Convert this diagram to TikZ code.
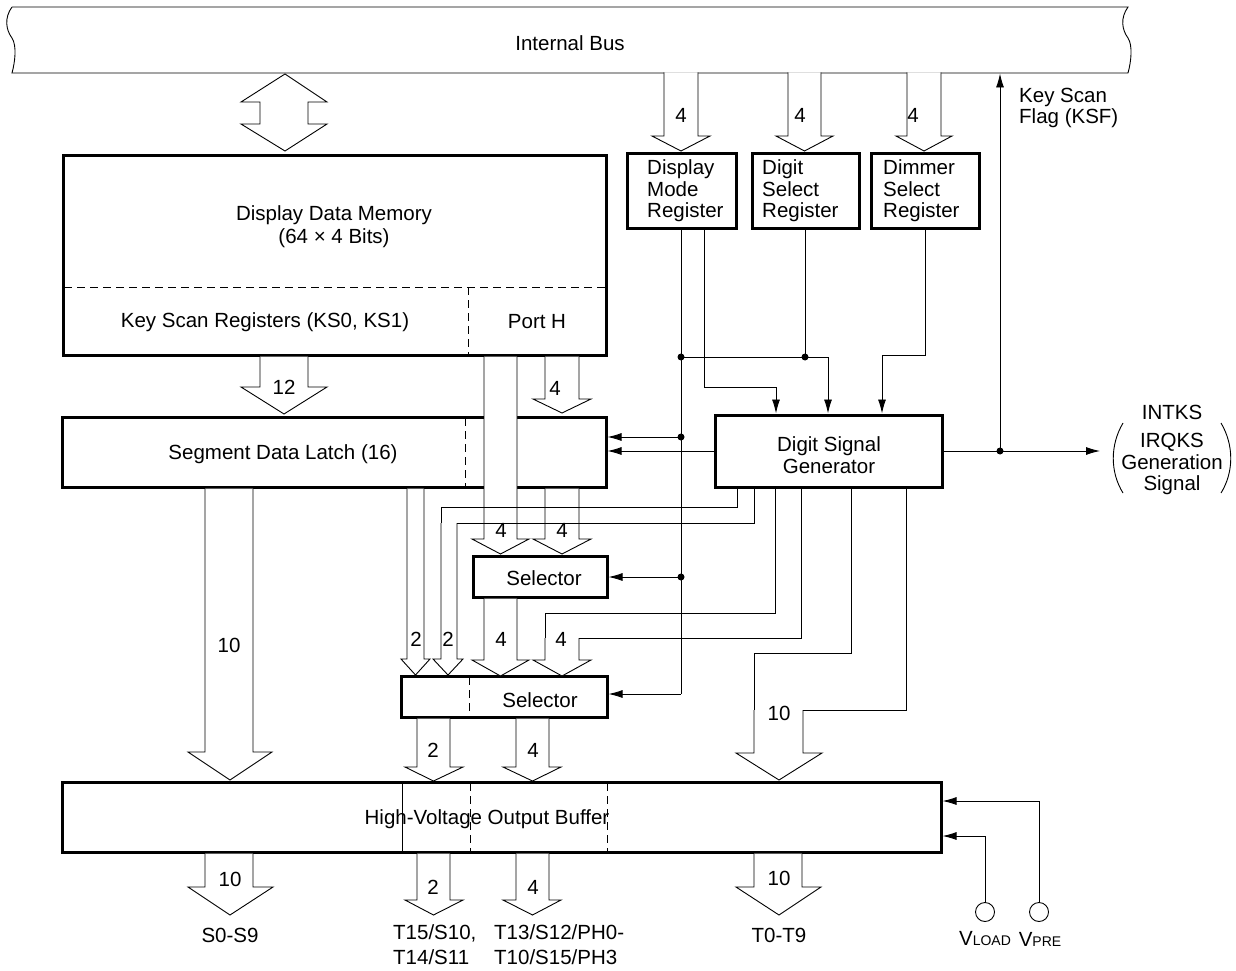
\documentclass[tikz,border=0pt]{standalone}
\usepackage{fontspec}
\setmainfont{Liberation Sans}
\usetikzlibrary{arrows.meta,calc}
\newcommand{\hArrow}[8]{%
  \path[hol] (#1,#3) -- (#1,#4) -- (#5,#4) -- (#7,#8) -- (#6,#4) -- (#2,#4) -- (#2,#3);}
\begin{document}
\begin{tikzpicture}[x=1pt,y=-1pt,
  box/.style={draw,line width=3pt,inner sep=0pt,fill=white},
  lbl/.style={inner sep=0pt,font=\fontsize{20.5}{21.5}\selectfont},
  lblb/.style={inner sep=0pt,font=\fontsize{20.5}{25}\selectfont},
  thin/.style={line width=0.9pt},
  hol/.style={fill=white,draw=black,line width=0.9pt},
  ctl/.style={line width=0.9pt,-{Latex[length=14pt,width=8pt]}},
  dsh/.style={line width=0.9pt,dash pattern=on 8pt off 5pt},
  pin/.style={draw,circle,minimum size=19pt,inner sep=0pt,line width=0.9pt}
]
\useasboundingbox (0,0) rectangle (1236,971);
\fill[white] (0,0) rectangle (1236,971);

% Internal bus
\draw[thin] (12,7) -- (1128,7)
  .. controls (1120,18) and (1122,30) .. (1128,38)
  .. controls (1133,46) and (1131,62) .. (1128,73) -- (12,73)
  .. controls (15,62) and (17,46) .. (12,38)
  .. controls (6,30) and (4,18) .. (12,7);
\node[lbl] (tbus) at (570,43) {Internal Bus};

% double arrow bus <-> memory
\draw[hol] (285,74) -- (327,102) -- (308,102) -- (308,124) -- (327,124) -- (285,151)
  -- (241,124) -- (260,124) -- (260,102) -- (241,102) -- cycle;

% boxes
\node[box,minimum width=543pt,minimum height=200pt] (ddm) at (334.5,255) {};
\node[box,minimum width=544pt,minimum height=70pt] (latch) at (334,452) {};
\node[box,minimum width=109pt,minimum height=75pt] (dmr) at (681.5,190.5) {};
\node[box,minimum width=107pt,minimum height=75pt] (dsr) at (805.5,190.5) {};
\node[box,minimum width=108pt,minimum height=75pt] (dimr) at (925,190.5) {};
\node[box,minimum width=227pt,minimum height=72pt] (dsg) at (828.5,451) {};
\node[box,minimum width=134pt,minimum height=41pt] (sel1) at (540,576.5) {};
\node[box,minimum width=206pt,minimum height=41pt] (sel2) at (504,696.5) {};
\node[box,minimum width=879pt,minimum height=70pt] (hvob) at (501.5,817) {};

% inner dividers
\draw[dsh] (64,287) -- (605,287);
\draw[dsh] (468,287) -- (468,354);
\draw[dsh] (465,418) -- (465,486);
\draw[dsh] (469,677) -- (469,716);
\draw[thin] (402,783) -- (402,851);
\draw[dsh] (470,783) -- (470,851);
\draw[dsh] (607,783) -- (607,851);

% box texts
\node[lbl] (t1) at (334,215) {Display Data Memory};
\node[lbl] (t2) at (334,238) {(64 × 4 Bits)};
\node[lbl] (t3) at (265,322) {Key Scan Registers (KS0, KS1)};
\node[lbl] (t4) at (537,322) {Port H};
\node[lbl] (t5) at (283,454) {Segment Data Latch (16)};
\node[lbl,align=left,anchor=west] (t6) at (647,191) {Display\\Mode\\Register};
\node[lbl,align=left,anchor=west] (t7) at (762,191) {Digit\\Select\\Register};
\node[lbl,align=left,anchor=west] (t8) at (883,191) {Dimmer\\Select\\Register};
\node[lbl,align=center] (t9) at (829,455) {Digit Signal\\Generator};
\node[lbl] (t10) at (544,578) {Selector};
\node[lbl] (t11) at (540,700) {Selector};
\node[lbl] (t12) at (487,819) {High-Voltage Output Buffer};

% hollow bus arrows
\hArrow{664}{698}{72.4}{136}{652}{710}{681}{151}
\hArrow{788}{821}{72.4}{136}{776}{833}{804.5}{151}
\hArrow{907}{941}{72.4}{136}{896}{952}{924}{151}
\node[lbl] (n1) at (681,115) {4};
\node[lbl] (n2) at (800,115) {4};
\node[lbl] (n3) at (913,115) {4};

% memory -> latch, port H
\hArrow{260}{308}{356.5}{387}{241}{327}{284}{414}
\node[lbl] (n4) at (284,387) {12};
\hArrow{545}{579}{356.5}{399}{533}{591}{562}{413}
\node[lbl] (n5) at (555,388) {4};
\hArrow{484}{517}{356.6}{539}{472}{529}{500.5}{554}
\node[lbl] (n6) at (501,530) {4};
\hArrow{545}{579}{488.6}{539}{533}{591}{562}{554}
\node[lbl] (n7) at (562,530) {4};

% latch -> output buffer (10)
\hArrow{205}{253}{488.6}{752}{188}{272}{230}{780}
\node[lbl] (n8) at (229,645) {10};

% into selector 2
\hArrow{407}{424}{488.6}{659}{401}{430}{415.5}{675}
\hArrow{441}{457}{523}{659}{433}{463}{448}{675}
\hArrow{484}{517}{598.6}{660}{472}{529}{500.5}{676}
\hArrow{545}{579}{638}{660}{533}{591}{562}{676}
\node[lbl] (n9) at (416,639) {2};
\node[lbl] (n10) at (448,639) {2};
\node[lbl] (n11) at (501,639) {4};
\node[lbl] (n12) at (561,639) {4};

% selector 2 -> buffer
\hArrow{417}{450}{718.6}{767}{405}{463}{433.5}{781}
\hArrow{516}{549}{718.6}{767}{503}{561}{532.5}{781}
\node[lbl] (n13) at (433,750) {2};
\node[lbl] (n14) at (533,750) {4};

% DSG -> buffer (10)
\hArrow{754}{803}{710}{753}{736}{822}{779}{780}
\node[lbl] (n15) at (779,713) {10};

% outputs
\hArrow{205}{253}{853.6}{887}{188}{273}{230}{915}
\hArrow{417}{450}{853.6}{900}{405}{463}{433.5}{915}
\hArrow{516}{549}{853.6}{900}{503}{561}{532.5}{915}
\hArrow{754}{802}{853.6}{887}{736}{821}{779}{915}
\node[lbl] (n16) at (230,879) {10};
\node[lbl] (n17) at (433,887) {2};
\node[lbl] (n18) at (533,887) {4};
\node[lbl] (n19) at (779,878) {10};
\node[lbl] (o1) at (230,935) {S0-S9};
\node[lblb,align=left,anchor=west] (o2) at (393,945) {T15/S10,\\T14/S11};
\node[lblb,align=left,anchor=west] (o3) at (494,945) {T13/S12/PH0-\\T10/S15/PH3};
\node[lbl] (o4) at (779,935) {T0-T9};

% DSG bottom lines
\draw[thin] (737,488.5) |- (441,507) -- (441,523);
\draw[thin] (754,488.5) |- (457,523);
\draw[thin] (775,488.5) |- (545,613) -- (545,638);
\draw[thin] (801,488.5) |- (579,638);
\draw[thin] (851,488.5) |- (754,653) -- (754,710);
\draw[thin] (906,488.5) |- (803,710);

% junctions
\coordinate (j1) at (681,357);
\coordinate (j0) at (805,357);
\coordinate (j2) at (681,437);
\coordinate (j3) at (681,577);
\coordinate (j4) at (681,694);
\coordinate (j5) at (1000,451);

% register lines
\draw[thin] (681,229.5) -- (j4);
\draw[ctl] (704,229.5) |- (776,387) -- (776,413.5);
\draw[thin] (805,229.5) -- (j0);
\draw[ctl] (j1) -| (828,413.5);
\draw[ctl] (925,229.5) |- (882,355) -- (882,413.5);

% control arrows
\draw[ctl] (j2) -- (latch.east |- j2);
\draw[ctl] (dsg.west) -- (latch.east |- dsg.west);
\draw[ctl] (j3) -- (sel1.east |- j3);
\draw[ctl] (j4) -- (sel2.east |- j4);

% key scan flag and INTKS
\draw[ctl] (j5) -- (1000,73.5);
\draw[ctl] (dsg.east) -- (1100,451);
\node[lbl,align=left,anchor=west] (ksf) at (1019,108) {Key Scan\\Flag (KSF)};
\node[lbl] (int1) at (1172,412) {INTKS};
\node[lbl,align=center] (int2) at (1172,464) {IRQKS\\Generation\\Signal};
\draw[thin] (1123,423) .. controls (1110,445) and (1110,472) .. (1123,493);
\draw[thin] (1221,423) .. controls (1234,445) and (1234,472) .. (1221,493);

% VLOAD, VPRE
\node[pin] (vl) at (985,912) {};
\node[pin] (vp) at (1039,912) {};
\draw[ctl] (vl.north) |- (942.5,836);
\draw[ctl] (vp.north) |- (942.5,801);
\node[lbl] (tvl) at (985,939) {V{\fontsize{14}{14}\selectfont LOAD}};
\node[lbl] (tvp) at (1040,939) {V{\fontsize{14}{14}\selectfont PRE}};

% dots
\foreach \p in {j0,j1,j2,j3,j5} \fill (\p) circle (3.5pt);
\end{tikzpicture}
\end{document}
